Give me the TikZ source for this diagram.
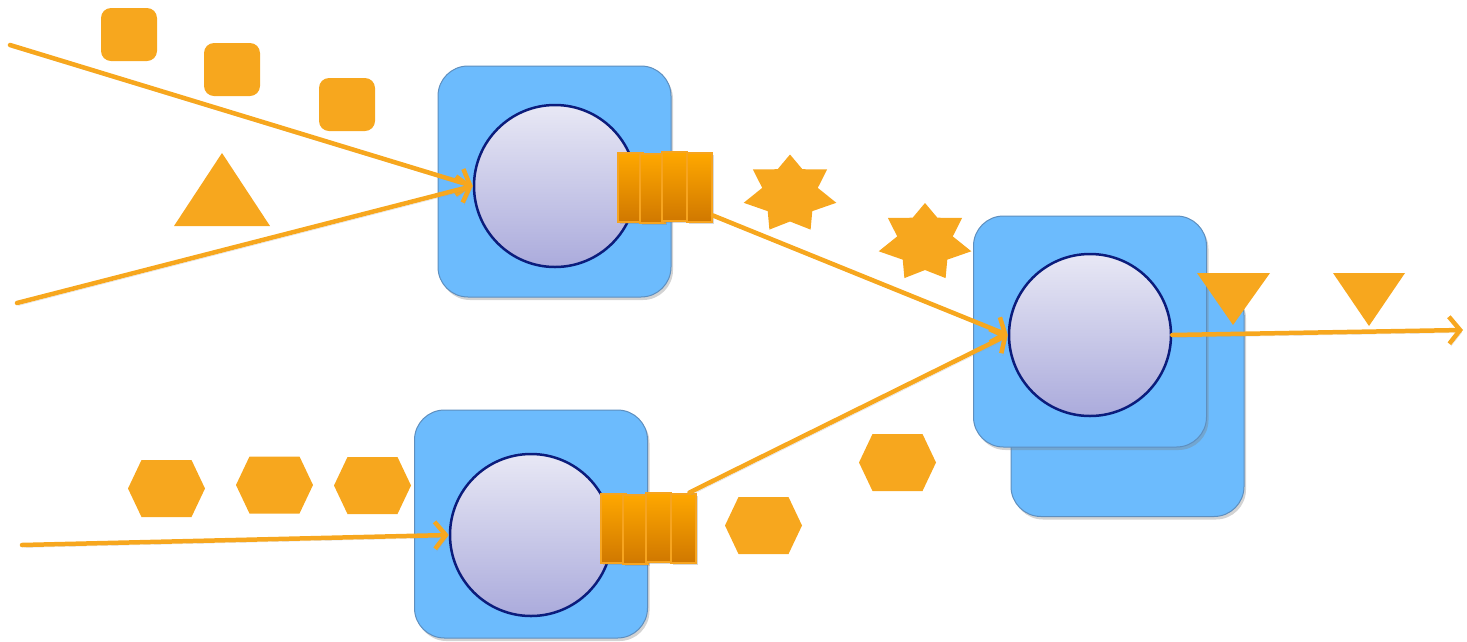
\documentclass[tikz,border=0pt]{standalone}
\usetikzlibrary{arrows.meta,shadows,calc}
\definecolor{tok}{HTML}{F7A71E}
\definecolor{boxfill}{HTML}{6CBBFD}
\definecolor{boxline}{HTML}{5E8FBF}
\definecolor{boxhi}{HTML}{B5EEFF}
\definecolor{circtop}{HTML}{E8E8F5}
\definecolor{circbot}{HTML}{ABABDC}
\definecolor{navy}{HTML}{0B1C7C}
\definecolor{qtop}{HTML}{FFA800}
\definecolor{qbot}{HTML}{D07800}
\definecolor{qline}{HTML}{F6A420}
\pgfdeclareverticalshading{boxshade}{100bp}{color(0bp)=(boxfill); color(88bp)=(boxfill); color(95bp)=(boxfill!60!boxhi); color(100bp)=(boxhi)}
\newcommand\heptstar[2]{\fill[tok] plot[samples at={0,...,13}, variable=\k] ({#1 + (mod(\k,2)==0 ? 47.5 : 28.5)*cos(90+\k*360/14)}, {#2 - (mod(\k,2)==0 ? 39.5 : 27.5)*sin(90+\k*360/14)}) -- cycle;}
\newcommand\hexa[2]{\fill[tok] (#1,#2) ++(-38.5,0) -- ++(13.5,-28.5) -- ++(50,0) -- ++(13.5,28.5) -- ++(-13.5,28.5) -- ++(-50,0) -- cycle;}
\newcommand\rsq[2]{\fill[tok, rounded corners=10pt] (#1,#2) rectangle ++(56,53);}
\begin{document}
\begin{tikzpicture}[x=1pt,y=-1pt,
  box/.style={rectangle, rounded corners=30pt, shade, shading=boxshade, draw=boxline, line width=1pt,
    minimum width=233pt, minimum height=231pt, inner sep=0pt,
    drop shadow={shadow xshift=2pt, shadow yshift=-3pt, opacity=0.35}},
  proc/.style={circle, draw=navy, line width=2.5pt, top color=circtop, bottom color=circbot,
    minimum size=162pt, inner sep=0pt},
  qblock/.style={rectangle, draw=qline, line width=2pt, top color=qtop, bottom color=qbot,
    minimum width=25pt, minimum height=69pt, inner sep=0pt,
    drop shadow={shadow xshift=2pt, shadow yshift=-2pt, opacity=0.3}},
  conn/.style={draw=tok, line width=4.5pt, line cap=round,
    preaction={draw=black!40, opacity=0.35, transform canvas={shift={(1.5pt,-2.5pt)}}}},
  arr/.style={conn, -{Straight Barb[length=11pt,width=27pt,line width=4.5pt]}}]
\useasboundingbox (0,0) rectangle (1467,641);
% boxes
\node[box] (b3back) at (1127.5,401) {};
\node[box] (b3) at (1090,331.5) {};
\node[box] (b1) at (554.5,181.5) {};
\node[box, minimum height=228pt] (b2) at (531,524) {};
% processes
\node[proc] (c1) at (555,186) {};
\node[proc] (c2) at (531,535) {};
\node[proc] (c3) at (1090,335) {};
% start/end coordinates
\coordinate (s1) at (10,45);
\coordinate (s2) at (17,303);
\coordinate (s3) at (22,545);
\coordinate (e3) at (1463,330);
% connectors
\draw[arr] (s1) -- (c1.west);
\draw[arr] (s2) -- (c1.west);
\draw[arr] (s3) -- (c2.west);
% queues
\node[qblock] (q1a) at (630,187) {};
\node[qblock] (q1b) at (652.5,188) {};
\node[qblock] (q1c) at (674.5,186) {};
\node[qblock] (q1d) at (699.5,187) {};
\node[qblock] (q2a) at (613.5,528) {};
\node[qblock] (q2b) at (635.5,529.5) {};
\node[qblock] (q2c) at (658,527) {};
\node[qblock] (q2d) at (683,528) {};
\draw[arr] ($(q1d.south east)+(0,-7)$) -- (c3.west);
\draw[arr] ($(q2d.north east)+(-7,0)$) -- (c3.west);
\draw[arr] (c3.east) -- (e3);
% tokens
\rsq{101}{8}
\rsq{204}{43}
\rsq{319}{78}
\fill[tok] (222,153) -- (270,226) -- (174,226) -- cycle;
\heptstar{790}{194}
\heptstar{925}{242.5}
\fill[tok] (1197,273) -- (1270,273) -- (1233,325) -- cycle;
\fill[tok] (1333,273) -- (1405,273) -- (1369,326) -- cycle;
\hexa{166.5}{488.5}
\hexa{274.5}{485}
\hexa{372.5}{485.5}
\hexa{763.5}{525.5}
\hexa{897.5}{462.5}
\end{tikzpicture}
\end{document}
